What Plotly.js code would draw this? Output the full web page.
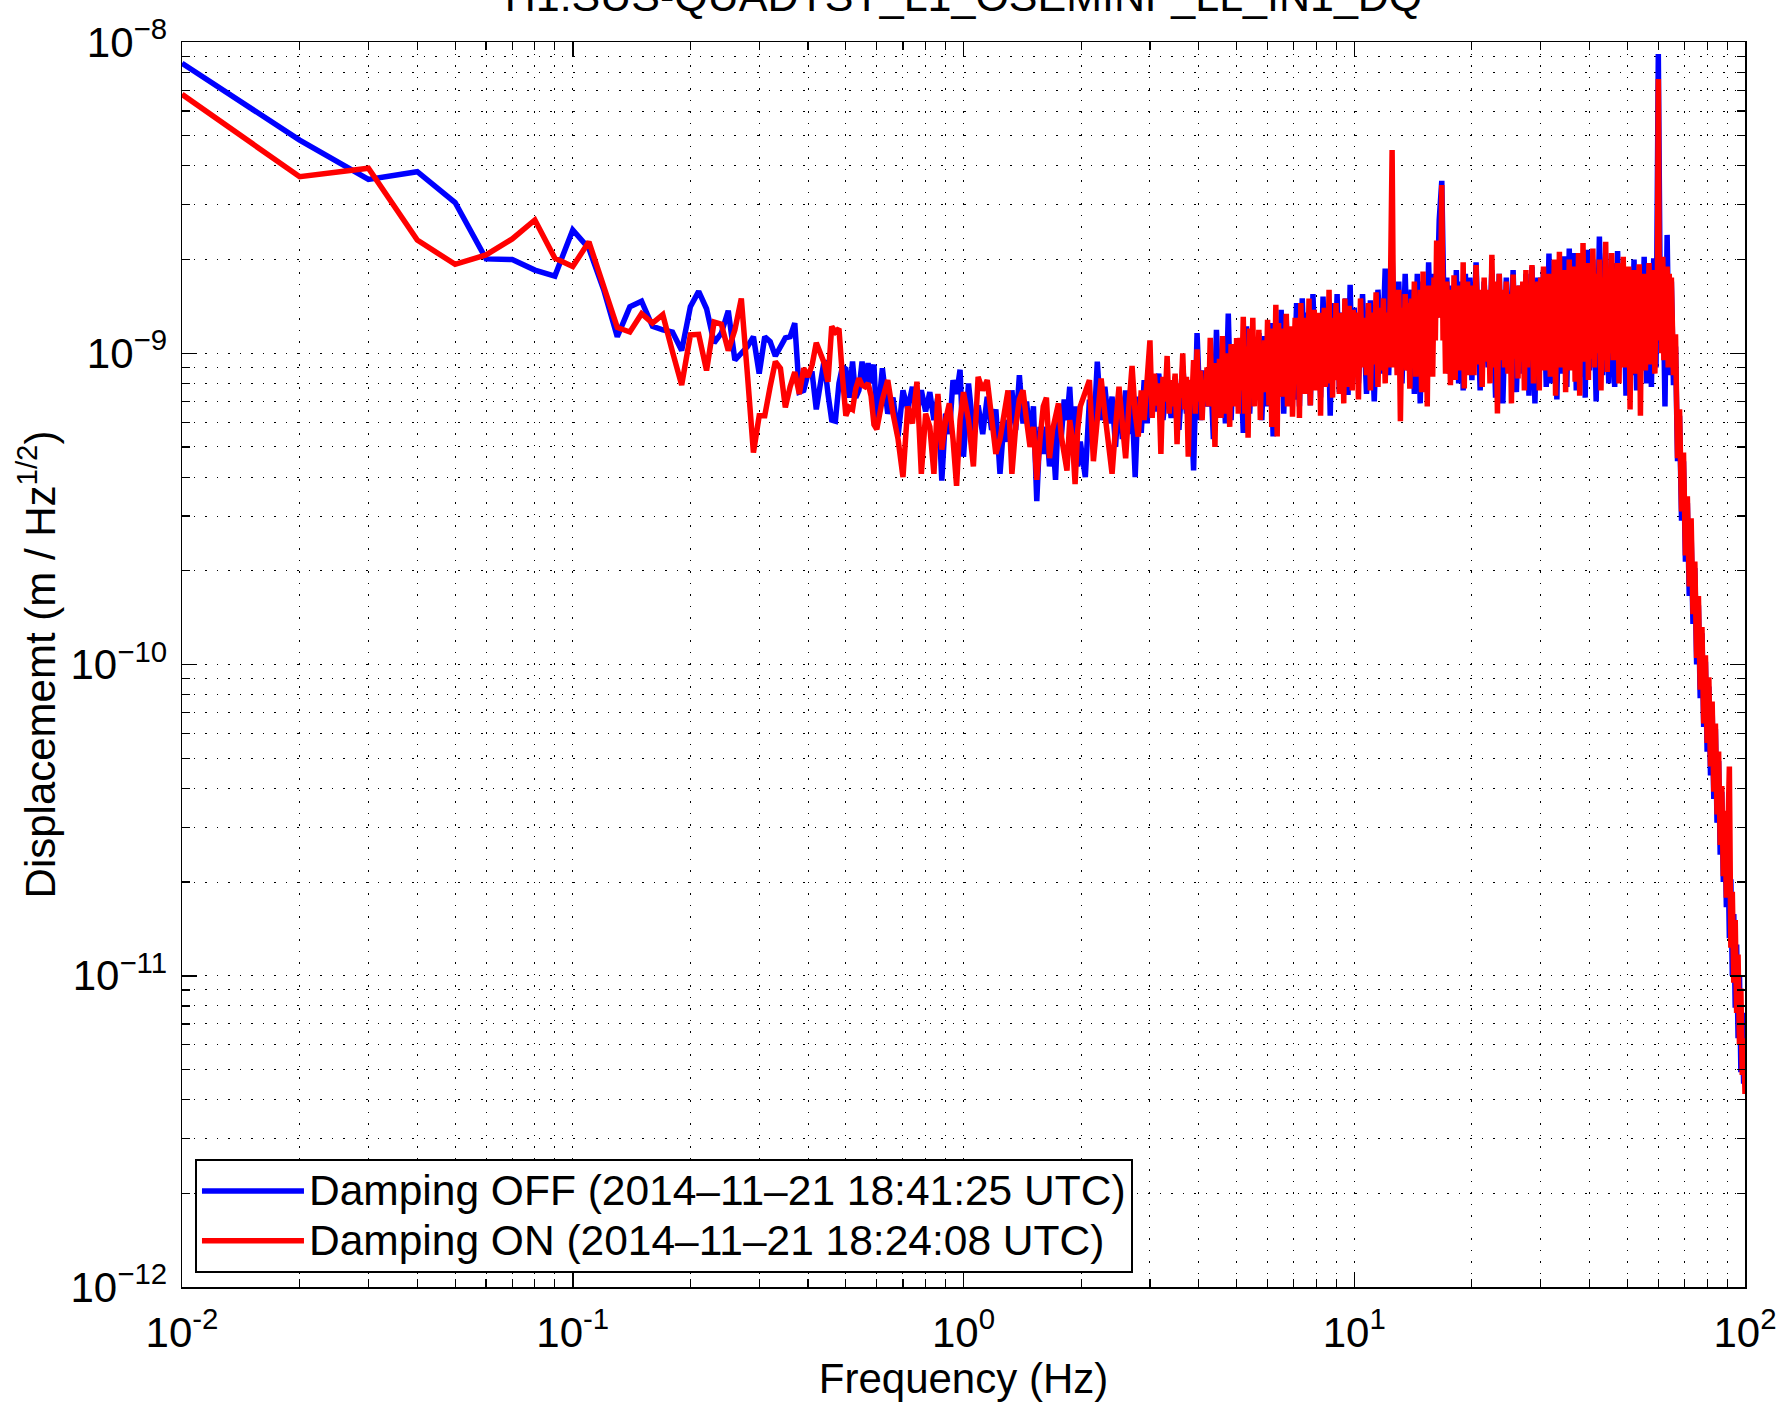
<!DOCTYPE html>
<html>
<head>
<meta charset="utf-8">
<script src="https://cdn.plot.ly/plotly-3.0.1.min.js"></script>
<style>
html,body{margin:0;padding:0;background:#fff;}
#chart{width:1779px;height:1402px;}
</style>
</head>
<body>
<div id="chart"></div>
<script>
// ---------------- data (frequency in Hz, displacement ASD in m/rtHz) ----------------
const chartTitle = "H1:SUS-QUADTST_L1_OSEMINF_LL_IN1_DQ";
const seriesNames = ["Damping OFF (2014\u201311\u201321 18:41:25 UTC)", "Damping ON (2014\u201311\u201321 18:24:08 UTC)"];
const xTickVals = [0.01, 0.1, 1, 10, 100];
const xTickText = ["10<sup>-2</sup>", "10<sup>-1</sup>", "10<sup>0</sup>", "10<sup>1</sup>", "10<sup>2</sup>"];
const yTickVals = [1e-12, 1e-11, 1e-10, 1e-9, 1e-8];
const yTickText = ["10<sup>\u221212</sup>", "10<sup>\u221211</sup>", "10<sup>\u221210</sup>", "10<sup>\u22129</sup>", "10<sup>\u22128</sup>"];

// shared frequency bins (Hz)
const freqLow = [0.01,0.02,0.03,0.04,0.05,0.06,0.07,0.08,0.09,0.10,
  0.11,0.12,0.13,0.14,0.15,0.16,0.17,0.18,0.19,0.20,
  0.21,0.22,0.23,0.24,0.25,0.26,0.27,0.28,0.29,0.30,
  0.31,0.32,0.33,0.34,0.35,0.36,0.37,0.38,0.39,0.40,
  0.41,0.42,0.43,0.44,0.45,0.46,0.47,0.48,0.49,0.50,
  0.51,0.52,0.53,0.54,0.55,0.56,0.57,0.58,0.59,0.60];
const freqMid = [0.62,0.64,0.66,0.68,0.70,0.72,0.74,0.76,0.78,0.80,0.82,0.84,0.86,0.88,0.90,0.92,0.94,0.96,0.98,1.00,
  1.03,1.06,1.09,1.12,1.15,1.18,1.21,1.24,1.27,1.30,1.33,1.36,1.39,1.42,1.45,1.48,1.51,1.54,1.57,1.60,1.63,1.66,1.69,1.72,1.75,1.78,1.81,1.84,1.87,1.90,1.93,1.96,1.99,
  2.05,2.10,2.15,2.20,2.25,2.30,2.35,2.40,2.45,2.50,2.55,2.60,2.65,2.70,2.75,2.80,2.85,2.90,2.95,3.00];
const freqRoll = [65.6,66.4,67.2,68.0,68.8,69.6,70.4,71.2,72.0,72.8,73.6,74.4,75.2,76.0,76.8,77.6,78.4,79.2,80.0,80.8,
  81.6,82.4,83.2,84.0,84.8,85.6,86.4,87.2,88.0,88.8,89.6,90.4,91.2,92.0,92.8,93.6,94.4,95.2,96.0,96.8,
  97.6,98.4,99.2,100.0];
// 3-65 Hz bins read for the OFF trace
const freqMid2Off = [3.08,3.16,3.24,3.32,3.40,3.48,3.56,3.64,3.72,3.80,3.88,3.96,4.04,4.12,4.20,4.28,4.36,4.44,4.52,4.60,4.68,4.76,4.84,4.92,5.00,
  5.1,5.2,5.3,5.4,5.5,5.6,5.7,5.8,5.9,6.0,6.1,6.2,6.3,6.4,6.5,6.6,6.7,6.8,6.9,7.0];
const freqHighOff = [7.12,7.24,7.36,7.48,7.60,7.72,7.84,7.96,8.08,8.20,8.32,8.44,8.56,8.68,8.80,8.92,9.04,9.16,9.28,9.40,9.52,9.64,9.76,9.88,10.0,
  10.25,10.5,10.75,11.0,11.25,11.5,11.75,12.0,12.25,12.5,12.75,13.0,13.25,13.5,13.75,14.0,14.25,14.5,14.75,15.0,
  15.25,15.5,15.75,16.0,16.25,16.5,16.75,17.0,17.25,17.5,17.75,18.0,18.25,18.5,18.75,19.0,19.25,19.5,19.75,20.0,
  20.5,21.0,21.5,22.0,22.5,23.0,23.5,24.0,24.5,25.0,25.5,26.0,26.5,27.0,27.5,28.0,28.5,29.0,29.5,30.0,
  30.5,31.0,31.5,32.0,32.5,33.0,33.5,34.0,34.5,35.0,35.5,36.0,36.5,37.0,37.5,38.0,38.5,39.0,39.5,40.0,
  40.8,41.6,42.4,43.2,44.0,44.8,45.6,46.4,47.2,48.0,48.8,49.6,50.4,51.2,52.0,52.8,53.6,54.4,55.2,56.0,
  56.8,57.6,58.4,59.2,60.0,60.8,61.6,62.4,63.2,64.0,64.8];
// 3-65 Hz bins read for the ON trace (drawn on top, read more finely)
const freqMid2On = [3.04,3.08,3.12,3.16,3.20,3.24,3.28,3.32,3.36,3.40,
  3.44,3.48,3.52,3.56,3.60,3.64,3.68,3.72,3.76,3.80,
  3.84,3.88,3.92,3.96,4.00,4.04,4.08,4.12,4.16,4.20,
  4.24,4.28,4.32,4.36,4.40,4.44,4.48,4.52,4.56,4.60,
  4.64,4.68,4.72,4.76,4.80,4.84,4.88,4.92,4.96,5.00,
  5.05,5.10,5.15,5.20,5.25,5.30,5.35,5.40,5.45,5.50,
  5.55,5.60,5.65,5.70,5.75,5.80,5.85,5.90,5.95,6.00,
  6.05,6.10,6.15,6.20,6.25,6.30,6.35,6.40,6.45,6.50,
  6.55,6.60,6.65,6.70,6.75,6.80,6.85,6.90,6.95,7.00];
const freqHighOn = [7.06,7.12,7.18,7.24,7.30,7.36,7.42,7.48,7.54,7.60,7.66,7.72,7.78,7.84,7.90,7.96,8.02,8.08,8.14,8.20,8.26,8.32,8.38,8.44,8.50,
  8.56,8.62,8.68,8.74,8.80,8.86,8.92,8.98,9.04,9.10,9.16,9.22,9.28,9.34,9.40,9.46,9.52,9.58,9.64,9.70,9.76,9.82,9.88,9.94,10.0,
  10.125,10.25,10.375,10.5,10.625,10.75,10.875,11.0,
  11.125,11.25,11.375,11.5,11.625,11.75,11.875,12.0,
  12.125,12.25,12.375,12.5,12.625,12.75,12.875,13.0,
  13.125,13.25,13.375,13.5,13.625,13.75,13.875,14.0,
  14.125,14.25,14.375,14.5,14.625,14.75,14.875,15.0,
  15.125,15.25,15.375,15.5,15.625,15.75,15.875,16.0,
  16.125,16.25,16.375,16.5,16.625,16.75,16.875,17.0,
  17.125,17.25,17.375,17.5,17.625,17.75,17.875,18.0,
  18.125,18.25,18.375,18.5,18.625,18.75,18.875,19.0,
  19.125,19.25,19.375,19.5,19.625,19.75,19.875,20.0,
  20.25,20.5,20.75,21.0,21.25,21.5,21.75,22.0,
  22.25,22.5,22.75,23.0,23.25,23.5,23.75,24.0,
  24.25,24.5,24.75,25.0,25.25,25.5,25.75,26.0,
  26.25,26.5,26.75,27.0,27.25,27.5,27.75,28.0,
  28.25,28.5,28.75,29.0,29.25,29.5,29.75,30.0,
  30.25,30.5,30.75,31.0,31.25,31.5,31.75,32.0,
  32.25,32.5,32.75,33.0,33.25,33.5,33.75,34.0,
  34.25,34.5,34.75,35.0,35.25,35.5,35.75,36.0,
  36.25,36.5,36.75,37.0,37.25,37.5,37.75,38.0,
  38.25,38.5,38.75,39.0,39.25,39.5,39.75,40.0,
  40.4,40.8,41.2,41.6,42.0,42.4,42.8,43.2,43.6,44.0,
  44.4,44.8,45.2,45.6,46.0,46.4,46.8,47.2,47.6,48.0,
  48.4,48.8,49.2,49.6,50.0,50.4,50.8,51.2,51.6,52.0,
  52.4,52.8,53.2,53.6,54.0,54.4,54.8,55.2,55.6,56.0,
  56.4,56.8,57.2,57.6,58.0,58.4,58.8,59.2,59.6,60.0,
  60.4,60.8,61.2,61.6,62.0,62.4,62.8,63.2,63.6,64.0,
  64.4,64.8];

// Damping OFF (blue)
const offLow = [8.54e-9,4.84e-9,3.62e-9,3.83e-9,3.05e-9,2.01e-9,2.0e-9,1.85e-9,1.77e-9,2.49e-9,
  2.17e-9,1.6e-9,1.13e-9,1.41e-9,1.47e-9,1.22e-9,1.19e-9,1.17e-9,1.02e-9,1.41e-9,
  1.58e-9,1.39e-9,1.08e-9,1.16e-9,1.37e-9,9.5e-10,1.0e-9,1.05e-9,1.13e-9,8.6e-10,
  1.13e-9,1.09e-9,9.8e-10,1.05e-9,1.12e-9,1.13e-9,1.25e-9,7.5e-10,7.6e-10,8.6e-10,
  8.6e-10,6.6e-10,8.2e-10,9.5e-10,7.4e-10,6.1e-10,6.05e-10,8.0e-10,9.05e-10,8.9e-10,
  7.2e-10,9.4e-10,7.2e-10,7.6e-10,9.4e-10,7.8e-10,9.3e-10,8.0e-10,9.2e-10,5.8e-10];
const offMid = [8.95e-10,6.4e-10,7.2e-10,5.4e-10,7.6e-10,6.6e-10,7.8e-10,6.4e-10,7.6e-10,6.5e-10,7.5e-10,6.1e-10,7.25e-10,3.9e-10,6.4e-10,5.5e-10,8.2e-10,7.4e-10,8.85e-10,4.65e-10,
  8.0e-10,5.6e-10,6.8e-10,5.5e-10,7.25e-10,5.67e-10,6.6e-10,4.1e-10,6.1e-10,5.2e-10,7.6e-10,5.67e-10,8.5e-10,5.95e-10,7.0e-10,5.3e-10,6.75e-10,3.35e-10,5.8e-10,4.75e-10,5.8e-10,4.33e-10,5.6e-10,3.92e-10,6.6e-10,5.4e-10,7.1e-10,6.1e-10,7.8e-10,5.4e-10,6.75e-10,4.33e-10,5.2e-10,
  4.0e-10,7.1e-10,5.3e-10,9.4e-10,6.1e-10,7.8e-10,5.95e-10,7.25e-10,5.0e-10,7.6e-10,5.3e-10,7.6e-10,5.5e-10,7.0e-10,4.0e-10,7.25e-10,5.55e-10,8.2e-10,5.95e-10,8.2e-10];
const offMid2 = [6.5e-10,8.6e-10,6.1e-10,8.2e-10,6.2e-10,8.4e-10,5.67e-10,9.1e-10,6.4e-10,8.2e-10,4.2e-10,1.16e-9,6.1e-10,8.8e-10,6.75e-10,9.3e-10,5.3e-10,1.19e-9,6.6e-10,1.0e-9,5.95e-10,1.34e-9,6.1e-10,1.05e-9,7.1e-10,
  1.05e-9,5.55e-10,1.22e-9,6.4e-10,1.05e-9,7.8e-10,1.16e-9,6.1e-10,1.135e-9,6.75e-10,1.25e-9,5.4e-10,1.16e-9,7.25e-10,1.38e-9,6.4e-10,1.28e-9,7.6e-10,1.19e-9,7.1e-10];
const offHigh = [1.45e-9,6.75e-10,1.5e-9,8.5e-10,1.35e-9,6.8e-10,1.55e-9,9.0e-10,1.3e-9,7.2e-10,1.52e-9,8.2e-10,1.4e-9,6.3e-10,1.45e-9,8.8e-10,1.55e-9,7.5e-10,1.35e-9,9.2e-10,1.5e-9,7.35e-10,1.66e-9,8.4e-10,1.4e-9,
  8.0e-10,1.55e-9,7.4e-10,1.48e-9,7.0e-10,1.6e-9,8.6e-10,1.87e-9,8.5e-10,2.05e-9,9.2e-10,1.7e-9,8.0e-10,1.8e-9,8.8e-10,1.6e-9,7.4e-10,1.8e-9,6.9e-10,1.7e-9,
  8.2e-10,1.96e-9,9.0e-10,1.8e-9,1.3e-9,2.68e-9,3.58e-9,1.2e-9,1.75e-9,8.6e-10,1.65e-9,9.0e-10,1.85e-9,8.0e-10,1.7e-9,7.6e-10,1.8e-9,8.8e-10,1.75e-9,8.2e-10,
  1.96e-9,7.6e-10,1.7e-9,9.0e-10,1.85e-9,7.2e-10,1.8e-9,6.9e-10,1.75e-9,8.8e-10,1.85e-9,7.5e-10,1.65e-9,8.6e-10,1.8e-9,7.3e-10,1.9e-9,6.9e-10,1.75e-9,9.0e-10,
  1.85e-9,7.8e-10,2.09e-9,8.0e-10,1.8e-9,7.1e-10,1.95e-9,8.6e-10,2.05e-9,7.8e-10,2.17e-9,9.0e-10,2.1e-9,7.6e-10,1.9e-9,8.4e-10,2.0e-9,7.2e-10,2.15e-9,8.8e-10,
  2.0e-9,7.0e-10,2.37e-9,8.5e-10,2.1e-9,8.0e-10,1.95e-9,7.8e-10,2.13e-9,9.2e-10,1.9e-9,7.3e-10,1.85e-9,8.5e-10,2.0e-9,7.6e-10,1.8e-9,8.8e-10,2.04e-9,8.0e-10,
  1.9e-9,7.8e-10,2.02e-9,9.0e-10,9.15e-9,1.1e-9,1.9e-9,6.75e-10,2.4e-9,8.5e-10,1.7e-9];
const offRoll = [7.9e-10,1.05e-9,4.5e-10,6.3e-10,2.9e-10,4.5e-10,2.14e-10,3.3e-10,1.66e-10,2.63e-10,
  1.35e-10,2.04e-10,1.0e-10,1.55e-10,7.8e-11,1.26e-10,6.3e-11,1.02e-10,5.25e-11,8.5e-11,
  4.4e-11,7.2e-11,3.7e-11,6.2e-11,3.1e-11,4.9e-11,2.45e-11,3.9e-11,2.0e-11,3.2e-11,
  1.66e-11,2.63e-11,1.32e-11,2.04e-11,1.0e-11,1.58e-11,7.9e-12,1.26e-11,6.3e-12,1.0e-11,
  4.9e-12,7.6e-12,4.5e-12,5.1e-12];

// Damping ON (red)
const onLow = [6.79e-9,3.69e-9,3.93e-9,2.31e-9,1.93e-9,2.07e-9,2.33e-9,2.68e-9,2.02e-9,1.9e-9,
  2.28e-9,1.64e-9,1.21e-9,1.17e-9,1.34e-9,1.25e-9,1.33e-9,1.01e-9,7.9e-10,1.145e-9,
  1.15e-9,8.8e-10,1.26e-9,1.24e-9,1.02e-9,1.19e-9,1.5e-9,8.5e-10,4.8e-10,6.3e-10,
  6.3e-10,7.8e-10,9.4e-10,8.95e-10,6.7e-10,7.8e-10,8.7e-10,7.4e-10,8.95e-10,8.4e-10,
  9.2e-10,1.08e-9,1.01e-9,9.3e-10,8.1e-10,1.22e-9,1.17e-9,1.2e-9,8.4e-10,6.3e-10,
  6.7e-10,6.6e-10,7.7e-10,8.3e-10,7.9e-10,7.8e-10,8.0e-10,7.3e-10,5.9e-10,5.7e-10];
const onMid = [7.1e-10,8.2e-10,6.4e-10,5.3e-10,4.0e-10,6.75e-10,5.95e-10,8.1e-10,4.1e-10,6.4e-10,5.8e-10,4.1e-10,7.4e-10,4.9e-10,6.1e-10,6.9e-10,5.3e-10,3.75e-10,6.1e-10,7.5e-10,
  6.1e-10,4.33e-10,8.4e-10,7.6e-10,8.2e-10,5.95e-10,4.75e-10,5.3e-10,6.4e-10,7.6e-10,4.1e-10,5.8e-10,7.1e-10,7.6e-10,6.1e-10,5.0e-10,5.8e-10,3.92e-10,5.3e-10,6.75e-10,7.2e-10,4.6e-10,5.67e-10,6.4e-10,6.9e-10,5.4e-10,4.6e-10,4.2e-10,6.1e-10,5.3e-10,3.8e-10,5.67e-10,6.75e-10,
  7.6e-10,8.2e-10,4.5e-10,6.1e-10,8.3e-10,6.4e-10,5.3e-10,4.1e-10,5.8e-10,7.8e-10,5.95e-10,4.6e-10,6.75e-10,9.1e-10,6.4e-10,5.4e-10,7.6e-10,6.1e-10,8.2e-10,1.1e-9];
const onMid2 = [6.2e-10,8.6e-10,6.8e-10,8.0e-10,4.75e-10,8.4e-10,7.0e-10,9.8e-10,6.4e-10,8.2e-10,
  6.75e-10,8.6e-10,5.1e-10,8.0e-10,7.2e-10,1.0e-9,6.6e-10,8.4e-10,4.65e-10,8.2e-10,
  6.9e-10,9.5e-10,6.4e-10,1.03e-9,7.0e-10,8.8e-10,6.1e-10,8.2e-10,7.2e-10,9.0e-10,
  6.75e-10,1.12e-9,7.4e-10,8.6e-10,5.0e-10,9.3e-10,7.0e-10,9.6e-10,6.2e-10,1.135e-9,
  6.4e-10,1.0e-9,7.4e-10,9.2e-10,5.8e-10,1.07e-9,7.2e-10,9.4e-10,6.75e-10,1.12e-9,
  6.4e-10,1.12e-9,7.6e-10,1.31e-9,6.4e-10,1.05e-9,5.35e-10,1.2e-9,7.4e-10,1.3e-9,
  6.75e-10,1.1e-9,7.8e-10,1.19e-9,6.1e-10,1.05e-9,7.6e-10,1.1e-9,7.5e-10,1.28e-9,
  6.8e-10,1.2e-9,5.8e-10,1.1e-9,7.9e-10,1.43e-9,5.4e-10,1.25e-9,8.0e-10,1.16e-9,
  7.25e-10,1.2e-9,8.2e-10,1.34e-9,6.75e-10,1.15e-9,8.0e-10,1.22e-9,6.25e-10,1.0e-9];
const onHigh = [1.3e-9,8.0e-10,1.22e-9,6.2e-10,1.45e-9,9.0e-10,1.3e-9,7.4e-10,1.25e-9,8.6e-10,1.5e-9,6.8e-10,1.2e-9,8.8e-10,1.38e-9,7.6e-10,1.28e-9,9.0e-10,1.35e-9,6.3e-10,1.2e-9,8.5e-10,1.4e-9,7.8e-10,1.3e-9,
  9.2e-10,1.6e-9,8.0e-10,1.25e-9,7.2e-10,1.3e-9,9.0e-10,1.45e-9,8.2e-10,1.25e-9,7.4e-10,1.35e-9,9.0e-10,1.28e-9,6.9e-10,1.5e-9,8.8e-10,1.3e-9,7.8e-10,1.42e-9,9.0e-10,1.3e-9,7.6e-10,1.38e-9,8.4e-10,
  1.35e-9,7.1e-10,1.5e-9,9.0e-10,1.3e-9,8.5e-10,1.45e-9,7.6e-10,
  1.35e-9,9.2e-10,1.57e-9,7.8e-10,1.4e-9,8.8e-10,1.5e-9,8.0e-10,
  1.35e-9,9.0e-10,1.6e-9,4.5e-9,9.0e-10,1.45e-9,8.5e-10,1.6e-9,
  6.05e-10,1.4e-9,9.0e-10,1.55e-9,8.8e-10,1.45e-9,7.7e-10,1.5e-9,
  9.2e-10,1.7e-9,8.4e-10,1.5e-9,9.0e-10,1.6e-9,7.5e-10,1.83e-9,
  9.0e-10,1.5e-9,6.75e-10,1.65e-9,9.2e-10,1.5e-9,8.4e-10,1.75e-9,
  1.1e-9,2.3e-9,1.3e-9,2.1e-9,1.4e-9,3.47e-9,1.1e-9,1.6e-9,
  8.6e-10,1.7e-9,9.4e-10,1.5e-9,7.9e-10,1.6e-9,9.6e-10,1.78e-9,
  8.2e-10,1.55e-9,9.2e-10,1.65e-9,8.8e-10,1.5e-9,9.5e-10,1.96e-9,
  7.7e-10,1.6e-9,9.3e-10,1.7e-9,8.5e-10,1.55e-9,9.4e-10,1.65e-9,
  8.5e-10,1.92e-9,9.2e-10,1.6e-9,7.8e-10,1.75e-9,9.4e-10,1.6e-9,
  8.0e-10,2.07e-9,9.0e-10,1.7e-9,6.4e-10,1.8e-9,9.5e-10,1.6e-9,
  9.0e-10,1.7e-9,8.6e-10,1.55e-9,6.9e-10,1.79e-9,9.6e-10,1.65e-9,
  8.3e-10,1.65e-9,9.4e-10,1.7e-9,7.6e-10,1.85e-9,9.0e-10,1.6e-9,
  9.5e-10,1.92e-9,8.0e-10,1.65e-9,9.6e-10,1.7e-9,7.6e-10,1.75e-9,
  9.2e-10,1.9e-9,8.8e-10,1.7e-9,9.8e-10,1.8e-9,8.4e-10,1.65e-9,
  9.6e-10,2.0e-9,7.3e-10,1.75e-9,9.4e-10,2.12e-9,9.0e-10,1.7e-9,
  9.8e-10,1.85e-9,7.5e-10,1.75e-9,9.4e-10,2.0e-9,8.8e-10,1.7e-9,
  9.7e-10,1.9e-9,8.1e-10,1.75e-9,9.5e-10,2.1e-9,7.3e-10,1.8e-9,
  9.6e-10,2.26e-9,9.4e-10,1.75e-9,9.8e-10,1.95e-9,8.2e-10,1.8e-9,
  9.6e-10,2.17e-9,9.0e-10,1.8e-9,1.0e-9,2.0e-9,7.6e-10,1.75e-9,9.5e-10,2.28e-9,
  8.7e-10,1.8e-9,1.0e-9,2.1e-9,9.5e-10,1.75e-9,9.8e-10,1.95e-9,8.0e-10,1.8e-9,
  9.8e-10,2.04e-9,9.0e-10,1.75e-9,9.6e-10,1.9e-9,6.6e-10,1.7e-9,9.5e-10,1.85e-9,
  8.6e-10,1.7e-9,9.8e-10,1.93e-9,6.3e-10,1.65e-9,9.6e-10,1.8e-9,8.8e-10,1.7e-9,
  9.6e-10,1.95e-9,9.2e-10,1.7e-9,1.0e-9,1.85e-9,8.6e-10,1.6e-9,1.1e-9,7.6e-9,
  1.2e-9,1.9e-9,1.0e-9,2.04e-9,9.5e-10,1.75e-9,1.05e-9,1.9e-9,9.0e-10,1.8e-9,
  1.0e-9,1.75e-9];
const onRoll = [8.5e-10,1.15e-9,4.6e-10,6.6e-10,3.1e-10,4.8e-10,2.24e-10,3.47e-10,1.78e-10,2.95e-10,
  1.45e-10,2.14e-10,1.05e-10,1.66e-10,8.3e-11,1.32e-10,6.46e-11,1.07e-10,5.6e-11,9.1e-11,
  4.7e-11,7.6e-11,3.9e-11,6.46e-11,3.3e-11,5.25e-11,2.63e-11,4.07e-11,2.09e-11,3.39e-11,
  1.78e-11,2.88e-11,4.7e-11,1.23e-11,1.86e-11,9.5e-12,1.51e-11,7.6e-12,1.17e-11,6.0e-12,
  9.1e-12,4.8e-12,6.3e-12,4.17e-12];

// ---------------- build traces ----------------
const freqOff = freqLow.concat(freqMid, freqMid2Off, freqHighOff, freqRoll);
const freqOn = freqLow.concat(freqMid, freqMid2On, freqHighOn, freqRoll);
const asdOff = offLow.concat(offMid, offMid2, offHigh, offRoll);
const asdOn = onLow.concat(onMid, onMid2, onHigh, onRoll);

const FONT = 'Liberation Sans, Arial, Helvetica, sans-serif';
const DOTS = '1.5px,10px';
const LINE_W = 5.5;

function minorTicks(k0, k1) {
  const out = [];
  for (let k = k0; k < k1; k++) {
    for (let m = 2; m <= 9; m++) out.push(m * Math.pow(10, k));
  }
  return out;
}
function legendLabel(s) {
  return '<span style="font-size:42.5px">' + s + '</span>';
}

const traces = [
  {x: freqOff, y: asdOff, type: 'scatter', mode: 'lines', name: legendLabel(seriesNames[0]),
   line: {color: '#0000ff', width: LINE_W}, hoverinfo: 'skip'},
  {x: freqOn, y: asdOn, type: 'scatter', mode: 'lines', name: legendLabel(seriesNames[1]),
   line: {color: '#ff0000', width: LINE_W}, hoverinfo: 'skip'}
];

const axisCommon = {
  type: 'log', tickmode: 'array', ticks: 'inside', ticklen: 15, tickwidth: 1.5, tickcolor: '#000',
  showline: true, linecolor: '#000', linewidth: 1.5, mirror: 'ticks',
  showgrid: true, gridcolor: '#000', gridwidth: 1, griddash: DOTS, zeroline: false,
  tickfont: {family: FONT, size: 42, color: '#000'}
};

const layout = {
  width: 1779, height: 1402,
  margin: {l: 182, r: 34, t: 42, b: 115},
  paper_bgcolor: '#ffffff', plot_bgcolor: '#ffffff',
  font: {family: FONT, size: 42, color: '#000'},
  title: {text: chartTitle, x: 0.5, xref: 'paper', xanchor: 'center',
          y: 1 - 10.5 / 1402, yref: 'container', yanchor: 'bottom',
          font: {family: FONT, size: 43, color: '#000'}},
  showlegend: true,
  legend: {x: 0.0083, y: 0.0112, xanchor: 'left', yanchor: 'bottom',
           bgcolor: '#ffffff', bordercolor: '#000', borderwidth: 2,
           font: {family: FONT, size: 36, color: '#000'}, itemwidth: 102, tracegroupgap: 0},
  xaxis: Object.assign({}, axisCommon, {
    range: [-2, 2], tickvals: xTickVals, ticktext: xTickText, ticklabelstandoff: 8,
    minor: {tickmode: 'array', tickvals: minorTicks(-2, 2), ticks: 'inside', ticklen: 8, tickwidth: 1.2,
            tickcolor: '#000', showgrid: true, gridcolor: '#000', gridwidth: 1, griddash: DOTS},
    title: {text: 'Frequency (Hz)', font: {family: FONT, size: 42, color: '#000'}, standoff: 6}
  }),
  yaxis: Object.assign({}, axisCommon, {
    range: [-12, -8], tickvals: yTickVals, ticktext: yTickText, ticklabelstandoff: 5,
    minor: {tickmode: 'array', tickvals: minorTicks(-12, -8), ticks: 'inside', ticklen: 8, tickwidth: 1.2,
            tickcolor: '#000', showgrid: true, gridcolor: '#000', gridwidth: 1, griddash: DOTS},
    title: {text: 'Displacememt (m / Hz<sup>1/2</sup>)', font: {family: FONT, size: 42, color: '#000'}, standoff: 2}
  })
};

Plotly.newPlot('chart', traces, layout, {staticPlot: true, displayModeBar: false});
</script>
</body>
</html>
